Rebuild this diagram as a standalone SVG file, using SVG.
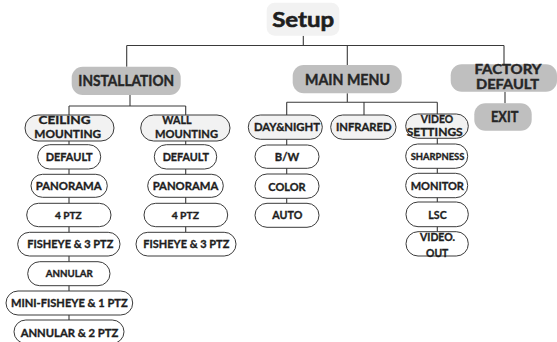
<svg xmlns="http://www.w3.org/2000/svg" width="557" height="342" viewBox="0 0 557 342">
<style>
  .pill{fill:#ffffff;stroke:#3a3a3a;stroke-width:1}
  .lite{fill:#f2f2f2;stroke:#3a3a3a;stroke-width:1}
  .head{fill:#bfbfbf}
  .top{fill:#f2f2f2}
  text{font-family:Lato,"Open Sans","Liberation Sans",sans-serif;font-weight:bold;fill:#1e1e1e;stroke:#1e1e1e;stroke-width:0.35;text-anchor:middle}
  .t{font-size:11.5px}
  .s{font-size:10px}
  .h{font-size:14.4px;fill:#262626;stroke:#262626;stroke-width:0.4}
  .f{font-size:13px}
  .big{font-size:21.5px;stroke-width:0.6}
  .conn{fill:none;stroke:#3a3a3a;stroke-width:1.1}
</style>
<rect width="557" height="342" fill="#ffffff"/>
<g id="connectors" class="conn">
  <path d="M303.3 35.7V45.5M126.7 45.5H504M126.7 45.5V66.7M347.3 45.5V65M504 45.5V64.3"/>
  <path d="M130 95V106M69 106H185.7M69 106V320M185.7 106V232.3"/>
  <path d="M347.3 93.3V102.3M286.7 102.3H437.3M286.7 102.3V203.3M364 102.3V115M437.3 102.3V231.7"/>
  <path d="M505 91.7V103.3"/>
</g>
<g id="setup"><rect class="top" x="266.7" y="2.7" width="72.6" height="33" rx="8"/><text class="big" x="303.2" y="27" textLength="62" lengthAdjust="spacingAndGlyphs">Setup</text></g>
<g id="installation"><rect class="head" x="71.7" y="66.7" width="109" height="28.3" rx="11"/><text class="h" x="126.2" y="86" textLength="95.7" lengthAdjust="spacingAndGlyphs">INSTALLATION</text></g>
<g id="main-menu"><rect class="head" x="292.7" y="65" width="109" height="28.3" rx="11"/><text class="h" x="347.5" y="84.5" textLength="85" lengthAdjust="spacingAndGlyphs">MAIN MENU</text></g>
<g id="factory-default"><rect class="head" x="450.7" y="64.3" width="106.3" height="27.4" rx="11"/><text class="h f" x="508" y="74.3" textLength="67" lengthAdjust="spacingAndGlyphs">FACTORY</text><text class="h f" x="507.5" y="88.8" textLength="63" lengthAdjust="spacingAndGlyphs">DEFAULT</text></g>
<g id="exit"><rect class="head" x="474.3" y="103.3" width="57.4" height="27.4" rx="11"/><text class="h" x="504.7" y="121.7" textLength="27.3" lengthAdjust="spacingAndGlyphs">EXIT</text></g>

<g id="ceiling-mounting"><rect class="lite" x="25" y="115" width="89" height="26" rx="13"/><text class="t" x="64.5" y="124" textLength="52" lengthAdjust="spacingAndGlyphs">CEILING</text><text class="t" x="67.7" y="137.7" textLength="66.7" lengthAdjust="spacingAndGlyphs">MOUNTING</text></g>
<g id="c-default"><rect class="pill" x="37.7" y="144.7" width="63" height="24.3" rx="12"/><text class="t" x="69.2" y="160.5" textLength="47" lengthAdjust="spacingAndGlyphs">DEFAULT</text></g>
<g id="c-panorama"><rect class="pill" x="31" y="174.3" width="76.3" height="23" rx="11.5"/><text class="t" x="68.7" y="190" textLength="66" lengthAdjust="spacingAndGlyphs">PANORAMA</text></g>
<g id="c-4ptz"><rect class="pill" x="26.7" y="203.3" width="84.3" height="23.4" rx="11.7"/><text class="s" x="68.3" y="218.5" textLength="26.7" lengthAdjust="spacingAndGlyphs">4 PTZ</text></g>
<g id="c-fisheye-3ptz"><rect class="pill" x="17.7" y="232.3" width="102.3" height="23.7" rx="11.8"/><text class="t" x="70.3" y="248.3" textLength="86" lengthAdjust="spacingAndGlyphs">FISHEYE &amp; 3 PTZ</text></g>
<g id="c-annular"><rect class="pill" x="27.7" y="261.7" width="82.3" height="24" rx="12"/><text class="s" x="69.2" y="277.3" textLength="47" lengthAdjust="spacingAndGlyphs">ANNULAR</text></g>
<g id="c-mini-fisheye"><rect class="pill" x="6" y="291" width="126.7" height="24" rx="12"/><text class="t" x="69.3" y="307.3" textLength="116.7" lengthAdjust="spacingAndGlyphs">MINI-FISHEYE &amp; 1 PTZ</text></g>
<g id="c-annular-2ptz"><rect class="pill" x="14" y="320" width="110" height="23.5" rx="11.8"/><text class="t" x="69.5" y="336.7" textLength="97.7" lengthAdjust="spacingAndGlyphs">ANNULAR &amp; 2 PTZ</text></g>

<g id="wall-mounting"><rect class="lite" x="140.7" y="115" width="89.3" height="26" rx="13"/><text class="t" x="177" y="124" textLength="29.3" lengthAdjust="spacingAndGlyphs">WALL</text><text class="t" x="186.5" y="137.7" textLength="63" lengthAdjust="spacingAndGlyphs">MOUNTING</text></g>
<g id="w-default"><rect class="pill" x="154.3" y="144.7" width="62.4" height="24.3" rx="12"/><text class="t" x="185.8" y="160.5" textLength="46.3" lengthAdjust="spacingAndGlyphs">DEFAULT</text></g>
<g id="w-panorama"><rect class="pill" x="147.7" y="174.3" width="75.6" height="23" rx="11.5"/><text class="t" x="185.5" y="190" textLength="65.7" lengthAdjust="spacingAndGlyphs">PANORAMA</text></g>
<g id="w-4ptz"><rect class="pill" x="144" y="203.3" width="83.7" height="23.4" rx="11.7"/><text class="s" x="185.3" y="218.5" textLength="27.3" lengthAdjust="spacingAndGlyphs">4 PTZ</text></g>
<g id="w-fisheye-3ptz"><rect class="pill" x="136" y="232.3" width="100" height="23.7" rx="11.8"/><text class="t" x="186.3" y="248.3" textLength="86" lengthAdjust="spacingAndGlyphs">FISHEYE &amp; 3 PTZ</text></g>

<g id="day-night"><rect class="lite" x="248.3" y="115" width="74" height="24.3" rx="12"/><text class="t" x="287" y="131" textLength="66" lengthAdjust="spacingAndGlyphs">DAY&amp;NIGHT</text></g>
<g id="bw"><rect class="pill" x="255" y="145" width="64" height="23.3" rx="11.6"/><text class="t" x="287" y="160.7" textLength="24.3" lengthAdjust="spacingAndGlyphs">B/W</text></g>
<g id="color"><rect class="pill" x="255" y="174" width="64" height="24.3" rx="12"/><text class="t" x="287" y="190.7" textLength="37.3" lengthAdjust="spacingAndGlyphs">COLOR</text></g>
<g id="auto"><rect class="pill" x="255" y="203.3" width="64" height="24" rx="12"/><text class="t" x="287.3" y="219" textLength="30" lengthAdjust="spacingAndGlyphs">AUTO</text></g>
<g id="infrared"><rect class="lite" x="330.7" y="115" width="65.3" height="24.3" rx="12"/><text class="t" x="363.8" y="131" textLength="55.7" lengthAdjust="spacingAndGlyphs">INFRARED</text></g>
<g id="video-settings"><rect class="lite" x="405.7" y="114" width="62.6" height="24.3" rx="12"/><text class="t" x="437" y="123.3" textLength="32.3" lengthAdjust="spacingAndGlyphs">VIDEO</text><text class="t" x="434.7" y="136" textLength="56" lengthAdjust="spacingAndGlyphs">SETTINGS</text></g>
<g id="sharpness"><rect class="pill" x="405.7" y="144" width="62" height="24.3" rx="12"/><text class="s" x="437.5" y="160" textLength="53.7" lengthAdjust="spacingAndGlyphs">SHARPNESS</text></g>
<g id="monitor"><rect class="pill" x="405.7" y="173.3" width="62" height="24.4" rx="12"/><text class="t" x="437.3" y="190" textLength="53.3" lengthAdjust="spacingAndGlyphs">MONITOR</text></g>
<g id="lsc"><rect class="pill" x="406" y="202" width="62.3" height="24.7" rx="12"/><text class="t" x="437.5" y="219" textLength="18.3" lengthAdjust="spacingAndGlyphs">LSC</text></g>
<g id="video-out"><rect class="pill" x="406" y="231.7" width="62.3" height="24.3" rx="12"/><text class="t" x="437.5" y="240.7" textLength="35" lengthAdjust="spacingAndGlyphs">VIDEO.</text><text class="t" x="437.2" y="256.5" textLength="22.3" lengthAdjust="spacingAndGlyphs">OUT</text></g>
</svg>
